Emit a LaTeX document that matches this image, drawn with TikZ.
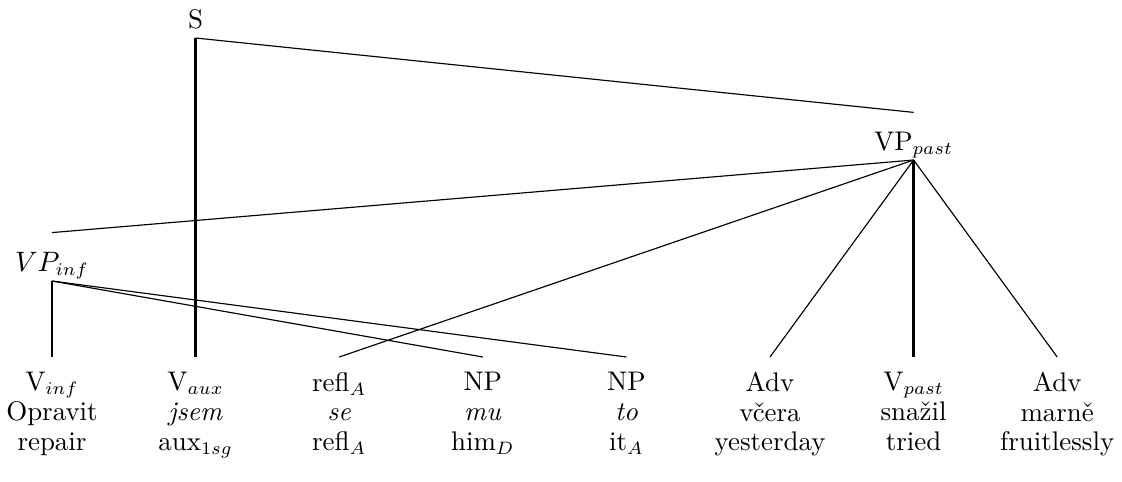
\documentclass[tikz,border=0pt]{standalone}
\usepackage{amsmath}
\usepackage{tikz}

\begin{document}
\begin{tikzpicture}[x=0.39pt,y=-0.39pt]
 \tikzstyle{every node}=[inner sep=1.5pt,font=\fontsize{10.5}{11.6}\selectfont]
 \tikzstyle{ph} = [anchor=south,text depth=2pt]
 \tikzstyle{lf} = [anchor=north,align=center,inner ysep=5.7pt]
 \tikzstyle{b} = [draw,line width=0.45pt]
 \tikzstyle{m} = [draw,line width=0.8pt]
 \tikzstyle{t} = [draw,line width=1.2pt]
 \useasboundingbox (0,0) rectangle (1122,481);
 \draw
 (52,357) node[lf] (Vinf) {V$_{inf}$\\Opravit\\repair}
 (Vinf.north) ++(143.6,0) node[lf] (Vaux) {V$_{aux}$\\\textit{jsem}\\aux$_{1sg}$}
 (Vaux.north) ++(143.6,0) node[lf] (Refl) {refl$_A$\\\textit{se}\\refl$_A$}
 (Refl.north) ++(143.6,0) node[lf] (NPmu) {NP\\\textit{mu}\\him$_D$}
 (NPmu.north) ++(143.6,0) node[lf] (NPto) {NP\\\textit{to}\\it$_A$}
 (NPto.north) ++(143.6,0) node[lf] (AdvY) {Adv\\včera\\yesterday}
 (AdvY.north) ++(143.6,0) node[lf] (Vpast) {V$_{past}$\\snažil\\tried}
 (Vpast.north) ++(143.6,0) node[lf] (AdvF) {Adv\\marně\\fruitlessly}
 (Vaux.north) ++(0,-319) node[ph] (S) {S}
 (Vpast.north) ++(0,-197) node[ph] (VPpast) {VP$_{past}$}
 (Vinf.north) ++(0,-76) node[ph] (VPinf) {$VP_{inf}$}
 ;
 % S
 \path [t] (S.south) -- (Vaux.north);
 \path [b] (S.south) -- ([yshift=6pt]VPpast.north);
 % VP past
 \path [b] (VPpast.south) -- ([yshift=6pt]VPinf.north);
 \path [b] (VPpast.south) -- (Refl.north);
 \path [b] (VPpast.south) -- (AdvY.north);
 \path [t] (VPpast.south) -- (Vpast.north);
 \path [b] (VPpast.south) -- (AdvF.north);
 % VP inf
 \path [m] (VPinf.south) -- (Vinf.north);
 \path [b] (VPinf.south) -- (NPmu.north);
 \path [b] (VPinf.south) -- (NPto.north);
\end{tikzpicture}
\end{document}
